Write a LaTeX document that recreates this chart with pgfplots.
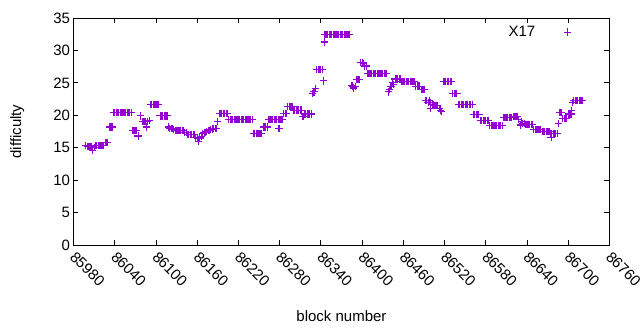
\documentclass[border=0pt]{standalone}
\usepackage{fontspec}
\setmainfont{Liberation Sans}
\usepackage{pgfplots}
\pgfplotsset{compat=1.18}
\definecolor{gpviolet}{RGB}{148,0,211}
\newcommand{\gpfont}{\fontsize{15bp}{17bp}\selectfont}
\begin{document}
\begin{tikzpicture}
\useasboundingbox (0,0) rectangle (640bp,330bp);
\begin{axis}[
  at={(73.5bp,85bp)}, anchor=south west,
  scale only axis, width=536bp, height=227bp,
  xmin=85980, xmax=86760, ymin=0, ymax=35,
  xtick={85980,86040,...,86760}, ytick={0,5,...,35},
  scaled x ticks=false,
  xticklabel={\pgfmathprintnumber[fixed,precision=0,set thousands separator={}]{\tick}},
  tick align=inside, major tick length=5bp,
  axis line style={line width=0.8bp}, tick style={line width=0.8bp, black},
  /pgf/number format/assume math mode=true,
  /pgf/number format/set thousands separator={},
  tick label style={font=\gpfont},
  xticklabel style={xshift=3bp, yshift=-4bp, rotate=-45, anchor=north west, inner sep=1bp},
  xlabel={block number}, ylabel={difficulty},
  label style={font=\gpfont},
  xlabel style={at={(axis description cs:0.5,-0.335)}, anchor=base},
  ylabel style={at={(axis description cs:-0.105,0.5)}, anchor=center},
  legend plot pos=right,
  legend style={draw=none, fill=none, font=\gpfont,
    at={(axis description cs:0.935,0.938)}, anchor=east},
]
\addplot[only marks, mark=+, mark size=3.6bp, color=gpviolet, mark options={line width=1.1bp}] table {
85998 15.4
86000 15.2
86002 15.2
86004 15.2
86006 15.1
86008 14.6
86010 15.0
86012 15.3
86014 15.3
86016 15.3
86018 15.3
86020 15.3
86022 15.3
86024 15.4
86026 15.8
86028 15.8
86030 15.8
86032 18.2
86034 18.2
86036 18.2
86038 20.4
86040 20.4
86042 20.4
86044 20.4
86046 20.4
86048 20.4
86050 20.4
86052 20.4
86054 20.4
86056 20.4
86058 20.4
86060 20.4
86062 20.4
86064 20.4
86066 17.6
86068 17.6
86070 17.6
86072 17.6
86074 16.8
86078 19.9
86080 19.0
86082 19.0
86084 19.0
86086 18.2
86088 19.0
86090 19.2
86092 21.7
86094 21.7
86096 21.7
86098 21.7
86100 21.7
86102 21.7
86104 21.7
86106 19.9
86108 19.9
86110 19.9
86112 19.9
86114 19.9
86116 19.9
86118 18.2
86120 18.0
86122 18.0
86124 18.0
86126 17.8
86128 17.7
86130 17.7
86132 17.7
86134 17.7
86136 17.7
86138 17.7
86140 17.7
86142 17.4
86144 17.4
86146 17.0
86148 17.0
86150 17.0
86152 17.0
86154 17.0
86156 17.0
86158 16.6
86160 16.5
86162 16.0
86164 16.5
86166 16.7
86168 17.2
86170 17.3
86172 17.4
86174 17.5
86176 17.6
86178 17.7
86180 17.8
86182 17.9
86184 18.0
86186 18.0
86188 18.0
86190 19.0
86192 20.3
86194 20.3
86196 20.3
86198 20.3
86200 20.3
86202 20.3
86204 20.3
86206 19.4
86208 19.4
86210 19.4
86212 19.4
86214 19.4
86216 19.4
86218 19.4
86220 19.4
86222 19.4
86224 19.4
86226 19.4
86228 19.4
86230 19.4
86232 19.4
86234 19.4
86236 19.4
86238 19.4
86240 19.4
86242 17.2
86244 17.2
86246 17.2
86248 17.2
86250 17.2
86252 17.2
86254 17.2
86256 18.2
86258 18.2
86260 18.2
86262 18.2
86264 19.3
86266 19.3
86268 19.3
86270 19.3
86272 19.3
86274 19.3
86276 19.3
86278 19.3
86279 18.0
86280 19.3
86282 19.3
86284 19.3
86286 20.3
86288 20.3
86290 20.3
86292 21.3
86294 21.3
86296 21.3
86298 21.3
86300 20.8
86302 20.8
86304 20.8
86306 20.8
86308 20.8
86310 20.8
86312 20.8
86314 19.8
86316 20.2
86318 20.2
86320 20.2
86322 20.2
86324 20.2
86326 20.2
86328 23.3
86330 23.6
86332 24.1
86334 27.0
86336 27.0
86338 27.0
86340 27.0
86342 27.0
86344 25.3
86345 31.3
86346 32.5
86348 32.5
86350 32.5
86352 32.5
86354 32.5
86356 32.5
86358 32.5
86360 32.5
86362 32.5
86364 32.5
86366 32.5
86368 32.5
86370 32.5
86372 32.5
86374 32.5
86376 32.5
86378 32.5
86380 32.5
86382 32.5
86384 24.6
86386 24.5
86388 24.2
86390 24.4
86392 25.5
86394 25.5
86396 25.5
86398 28.2
86400 28.2
86402 28.0
86404 27.6
86406 27.6
86408 26.4
86410 26.4
86412 26.4
86414 26.4
86416 26.4
86418 26.4
86420 26.4
86422 26.4
86424 26.4
86426 26.4
86428 26.4
86430 26.4
86432 26.4
86434 26.4
86436 26.4
86438 23.6
86440 24.0
86442 24.5
86444 25.0
86446 24.8
86448 25.6
86450 25.6
86452 25.6
86454 25.6
86456 25.6
86458 25.2
86460 25.2
86462 25.2
86464 25.2
86466 25.2
86468 25.2
86470 25.2
86472 25.2
86474 25.2
86476 25.2
86478 24.5
86480 24.5
86482 24.5
86484 24.5
86486 24.0
86488 24.0
86490 24.0
86492 22.3
86494 22.3
86496 22.0
86498 22.3
86499 21.0
86500 22.0
86502 21.6
86504 21.6
86506 21.5
86508 21.5
86510 21.5
86512 21.0
86514 20.8
86516 20.6
86518 25.2
86520 25.2
86522 25.2
86524 25.2
86526 25.2
86528 25.2
86530 25.2
86532 23.3
86534 23.3
86536 23.3
86538 23.3
86540 21.7
86542 21.7
86544 21.7
86546 21.7
86548 21.7
86550 21.7
86552 21.7
86554 21.7
86556 21.7
86558 21.7
86560 21.7
86562 20.1
86564 20.1
86566 20.1
86568 20.1
86570 20.1
86572 19.2
86574 19.2
86576 19.2
86578 19.2
86580 19.2
86582 19.2
86584 19.2
86586 18.4
86588 18.4
86590 18.4
86592 18.4
86594 18.4
86596 18.4
86598 18.4
86600 18.4
86602 18.4
86604 18.4
86606 19.6
86608 19.6
86610 19.6
86612 19.6
86614 19.6
86616 19.6
86618 19.6
86620 19.8
86622 19.8
86624 19.8
86626 19.8
86628 19.3
86630 18.5
86632 19.0
86634 18.7
86636 18.7
86638 18.6
86640 18.6
86642 18.6
86644 18.6
86646 18.6
86648 18.6
86650 17.8
86652 17.8
86654 17.8
86656 17.8
86658 17.8
86660 17.8
86662 17.5
86664 17.5
86666 17.5
86668 17.5
86670 17.5
86672 17.5
86674 17.2
86675 16.6
86676 17.2
86678 17.2
86680 17.2
86682 17.2
86684 17.2
86686 18.7
86688 20.4
86690 20.4
86692 19.5
86694 19.5
86696 19.5
86698 19.5
86700 20.2
86702 20.2
86704 20.2
86705 20.7
86706 22.0
86708 22.3
86710 22.3
86712 22.3
86714 22.3
86716 22.3
86718 22.3
86720 22.3
};
\addlegendentry{X17\hspace*{27bp}}
\end{axis}
\end{tikzpicture}
\end{document}
